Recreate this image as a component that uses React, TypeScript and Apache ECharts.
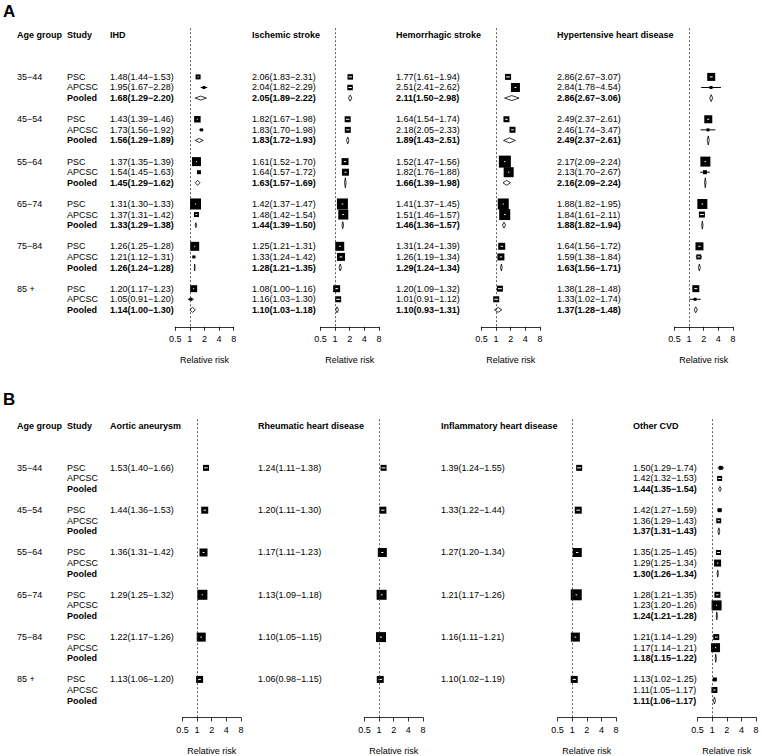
import React, { useEffect, useRef } from "react";
import * as echarts from "echarts";

type CI = [number, number, number];

const FONT = "'Liberation Sans', Arial, Helvetica, sans-serif";
const FS = 9;

const ageGroups = ["35\u221244", "45\u221254", "55\u221264", "65\u221274", "75\u221284", "85 +"];
const studyNames = ["PSC", "APCSC", "Pooled"];
const tickValues = [0.5, 1, 2, 4, 8];

// Panel A: per age group [PSC, APCSC, Pooled] as [estimate, lower, upper]
const ihd: CI[][] = [
  [[1.48, 1.44, 1.53], [1.95, 1.67, 2.28], [1.68, 1.29, 2.2]],
  [[1.43, 1.39, 1.46], [1.73, 1.56, 1.92], [1.56, 1.29, 1.89]],
  [[1.37, 1.35, 1.39], [1.54, 1.45, 1.63], [1.45, 1.29, 1.62]],
  [[1.31, 1.3, 1.33], [1.37, 1.31, 1.42], [1.33, 1.29, 1.38]],
  [[1.26, 1.25, 1.28], [1.21, 1.12, 1.31], [1.26, 1.24, 1.28]],
  [[1.2, 1.17, 1.23], [1.05, 0.91, 1.2], [1.14, 1.0, 1.3]],
];
const ischemic: CI[][] = [
  [[2.06, 1.83, 2.31], [2.04, 1.82, 2.29], [2.05, 1.89, 2.22]],
  [[1.82, 1.67, 1.98], [1.83, 1.7, 1.98], [1.83, 1.72, 1.93]],
  [[1.61, 1.52, 1.7], [1.64, 1.57, 1.72], [1.63, 1.57, 1.69]],
  [[1.42, 1.37, 1.47], [1.48, 1.42, 1.54], [1.44, 1.39, 1.5]],
  [[1.25, 1.21, 1.31], [1.33, 1.24, 1.42], [1.28, 1.21, 1.35]],
  [[1.08, 1.0, 1.16], [1.16, 1.03, 1.3], [1.1, 1.03, 1.18]],
];
const hemorrhagic: CI[][] = [
  [[1.77, 1.61, 1.94], [2.51, 2.41, 2.62], [2.11, 1.5, 2.98]],
  [[1.64, 1.54, 1.74], [2.18, 2.05, 2.33], [1.89, 1.43, 2.51]],
  [[1.52, 1.47, 1.56], [1.82, 1.76, 1.88], [1.66, 1.39, 1.98]],
  [[1.41, 1.37, 1.45], [1.51, 1.46, 1.57], [1.46, 1.36, 1.57]],
  [[1.31, 1.24, 1.39], [1.26, 1.19, 1.34], [1.29, 1.24, 1.34]],
  [[1.2, 1.09, 1.32], [1.01, 0.91, 1.12], [1.1, 0.93, 1.31]],
];
const hypertensive: CI[][] = [
  [[2.86, 2.67, 3.07], [2.84, 1.78, 4.54], [2.86, 2.67, 3.06]],
  [[2.49, 2.37, 2.61], [2.46, 1.74, 3.47], [2.49, 2.37, 2.61]],
  [[2.17, 2.09, 2.24], [2.13, 1.7, 2.67], [2.16, 2.09, 2.24]],
  [[1.88, 1.82, 1.95], [1.84, 1.61, 2.11], [1.88, 1.82, 1.94]],
  [[1.64, 1.56, 1.72], [1.59, 1.38, 1.84], [1.63, 1.56, 1.71]],
  [[1.38, 1.28, 1.48], [1.33, 1.02, 1.74], [1.37, 1.28, 1.48]],
];

// Panel B (PSC only except Other CVD)
const aortic: CI[][] = [
  [[1.53, 1.4, 1.66]], [[1.44, 1.36, 1.53]], [[1.36, 1.31, 1.42]],
  [[1.29, 1.25, 1.32]], [[1.22, 1.17, 1.26]], [[1.13, 1.06, 1.2]],
];
const rheumatic: CI[][] = [
  [[1.24, 1.11, 1.38]], [[1.2, 1.11, 1.3]], [[1.17, 1.11, 1.23]],
  [[1.13, 1.09, 1.18]], [[1.1, 1.05, 1.15]], [[1.06, 0.98, 1.15]],
];
const inflammatory: CI[][] = [
  [[1.39, 1.24, 1.55]], [[1.33, 1.22, 1.44]], [[1.27, 1.2, 1.34]],
  [[1.21, 1.17, 1.26]], [[1.16, 1.11, 1.21]], [[1.1, 1.02, 1.19]],
];
const otherCvd: CI[][] = [
  [[1.5, 1.29, 1.74], [1.42, 1.32, 1.53], [1.44, 1.35, 1.54]],
  [[1.42, 1.27, 1.59], [1.36, 1.29, 1.43], [1.37, 1.31, 1.43]],
  [[1.35, 1.25, 1.45], [1.29, 1.25, 1.34], [1.3, 1.26, 1.34]],
  [[1.28, 1.21, 1.35], [1.23, 1.2, 1.26], [1.24, 1.21, 1.28]],
  [[1.21, 1.14, 1.29], [1.17, 1.14, 1.21], [1.18, 1.15, 1.22]],
  [[1.13, 1.02, 1.25], [1.11, 1.05, 1.17], [1.11, 1.06, 1.17]],
];

// study weights shown as box sizes [PSC, APCSC, pooled diamond height]
const ihdBox = [[5, 3, 4], [6.5, 3, 4], [9, 4, 5], [11, 5, 5], [9, 3, 7], [7, 3, 5]];
const ischemicBox = [[5.5, 5.5, 6], [6, 6, 7], [7, 7, 10], [11, 10, 7], [9, 8, 7], [7, 6, 6]];
const hemorrhagicBox = [[6, 9, 5], [6, 6, 5], [12, 10, 5], [11, 11, 6], [7, 7, 7], [6, 6, 5]];
const hypertensiveBox = [[8, 3, 7], [8, 3, 9], [10, 4, 10], [10, 6, 8], [8, 5, 7], [7, 3, 6]];
const aorticBox = [[6], [7], [8], [10], [9], [7]];
const rheumaticBox = [[6], [7], [9], [10], [10], [7]];
const inflammatoryBox = [[6], [7], [9], [11], [9], [7]];
const otherCvdBox = [[4, 5, 5], [4, 5, 7], [5, 7, 7], [6, 10, 8], [6, 9, 8], [4, 6, 7]];

type Panel = { title: string; data: CI[][]; box: number[][]; textX: number; axisX: number };

const sections: { letter: string; letterY: number; top: number; panels: Panel[] }[] = [
  {
    letter: "A",
    letterY: 3,
    top: 28.2,
    panels: [
      { title: "IHD", data: ihd, box: ihdBox, textX: 110, axisX: 175.2 },
      { title: "Ischemic stroke", data: ischemic, box: ischemicBox, textX: 252, axisX: 320.4 },
      { title: "Hemorrhagic stroke", data: hemorrhagic, box: hemorrhagicBox, textX: 396, axisX: 481.4 },
      { title: "Hypertensive heart disease", data: hypertensive, box: hypertensiveBox, textX: 557, axisX: 674.4 },
    ],
  },
  {
    letter: "B",
    letterY: 391,
    top: 419.2,
    panels: [
      { title: "Aortic aneurysm", data: aortic, box: aorticBox, textX: 110, axisX: 182.4 },
      { title: "Rheumatic heart disease", data: rheumatic, box: rheumaticBox, textX: 258, axisX: 364.4 },
      { title: "Inflammatory heart disease", data: inflammatory, box: inflammatoryBox, textX: 441, axisX: 557.6 },
      { title: "Other CVD", data: otherCvd, box: otherCvdBox, textX: 633, axisX: 697.6 },
    ],
  },
];

const AXIS_W = 58.5;
const GRID_H = 298.6;
const Y_MIN = -0.6;
const Y_MAX = 27.6;

type Item = {
  row: number;
  tx: number;
  label?: string;
  bold?: boolean;
  est?: number;
  lo?: number;
  hi?: number;
  size?: number;
  diamond?: boolean;
};

const fmt = (c: CI) => `${c[0].toFixed(2)}(${c[1].toFixed(2)}\u2212${c[2].toFixed(2)})`;

const makeRender = (items: Item[]) => (params: any, api: any) => {
  const it = items[params.dataIndex];
  const y = api.coord([1, it.row])[1];
  const ch: any[] = [];
  if (it.est != null) {
    const xe = api.coord([it.est, it.row])[0];
    const xl = api.coord([it.lo, it.row])[0];
    const xh = api.coord([it.hi, it.row])[0];
    if (it.diamond) {
      const dh = (it.size || 6) / 2;
      ch.push({
        type: "polygon",
        shape: { points: [[xl, y], [xe, y - dh], [xh, y], [xe, y + dh]] },
        style: { fill: "#fff", stroke: "#000", lineWidth: 0.8 },
      });
    } else {
      const s = it.size || 4;
      const h = s / 2;
      ch.push({ type: "line", shape: { x1: xl, y1: y, x2: xh, y2: y }, style: { stroke: "#000", lineWidth: 1 } });
      ch.push({ type: "rect", shape: { x: xe - h, y: y - h, width: s, height: s }, style: { fill: "#000" } });
      const a = Math.max(xl, xe - h + 1);
      const b = Math.min(xh, xe + h - 1);
      if (s >= 5) {
        const aa = b - a < 1 ? xe - 0.5 : a;
        const bb = b - a < 1 ? xe + 0.5 : b;
        ch.push({ type: "line", shape: { x1: aa, y1: y, x2: bb, y2: y }, style: { stroke: "#fff", lineWidth: 1 } });
      }
    }
  }
  if (it.label) {
    ch.push({
      type: "text",
      x: it.tx,
      y,
      style: {
        text: it.label,
        fontSize: FS,
        fontFamily: FONT,
        fontWeight: it.bold ? "bold" : "normal",
        fill: "#000",
        align: "left",
        verticalAlign: "middle",
      },
    });
  }
  return { type: "group", children: ch };
};

function buildOption() {
  const grid: any[] = [];
  const xAxis: any[] = [];
  const yAxis: any[] = [];
  const series: any[] = [];
  const graphic: any[] = [];
  let gi = 0;
  sections.forEach((sec) => {
    graphic.push({
      type: "text",
      left: 3,
      top: sec.letterY,
      style: { text: sec.letter, fontSize: 17, fontWeight: "bold", fontFamily: FONT, fill: "#000" },
    });
    sec.panels.forEach((p, pi) => {
      grid.push({ left: p.axisX, top: sec.top, width: AXIS_W, height: GRID_H, containLabel: false });
      xAxis.push({
        type: "log",
        logBase: 2,
        min: tickValues[0],
        max: tickValues[tickValues.length - 1],
        splitNumber: 4,
        gridIndex: gi,
        position: "bottom",
        axisLine: { show: true, onZero: false, lineStyle: { color: "#000", width: 0.8 } },
        axisTick: { show: true, length: 4, lineStyle: { color: "#000", width: 0.8 } },
        axisLabel: {
          fontSize: FS,
          fontFamily: FONT,
          color: "#000",
          margin: 8,
          formatter: (v: number) => String(Math.round(v * 100) / 100),
        },
        splitLine: { show: false },
        name: "Relative risk",
        nameLocation: "middle",
        nameGap: 28.5,
        nameTextStyle: { fontSize: FS, fontFamily: FONT, color: "#000" },
      });
      yAxis.push({ type: "value", gridIndex: gi, min: Y_MIN, max: Y_MAX, inverse: true, show: false });

      const items: Item[] = [];
      if (pi === 0) {
        items.push({ row: 0, tx: 17, label: "Age group", bold: true });
        items.push({ row: 0, tx: 67, label: "Study", bold: true });
        ageGroups.forEach((ag, g) => {
          items.push({ row: 4 + g * 4, tx: 17, label: ag });
          studyNames.forEach((sn, s) => {
            items.push({ row: 4 + g * 4 + s, tx: 67, label: sn, bold: s === 2 });
          });
        });
      }
      items.push({ row: 0, tx: p.textX, label: p.title, bold: true });
      p.data.forEach((grp, g) => {
        grp.forEach((c, s) => {
          items.push({
            row: 4 + g * 4 + s,
            tx: p.textX,
            label: fmt(c),
            bold: s === 2,
            est: c[0],
            lo: c[1],
            hi: c[2],
            size: p.box[g][s],
            diamond: s === 2,
          });
        });
      });
      series.push({
        type: "custom",
        xAxisIndex: gi,
        yAxisIndex: gi,
        clip: false,
        silent: true,
        encode: { x: 0, y: 1 },
        data: items.map((it) => [1, it.row]),
        renderItem: makeRender(items),
        markLine: {
          silent: true,
          symbol: "none",
          label: { show: false },
          lineStyle: { color: "#333", type: [2, 2], width: 0.8 },
          data: [{ xAxis: 1 }],
        },
      });
      gi++;
    });
  });
  return { animation: false, backgroundColor: "#fff", grid, xAxis, yAxis, series, graphic };
}

export default function App() {
  const ref = useRef<HTMLDivElement>(null);
  useEffect(() => {
    if (!ref.current) return;
    const chart = echarts.init(ref.current, undefined, { renderer: "svg" });
    chart.setOption(buildOption() as any);
    return () => chart.dispose();
  }, []);
  return (
    <div
      ref={ref}
      style={{ position: "fixed", left: 0, top: 0, width: 762, height: 756, background: "#fff" }}
    />
  );
}
